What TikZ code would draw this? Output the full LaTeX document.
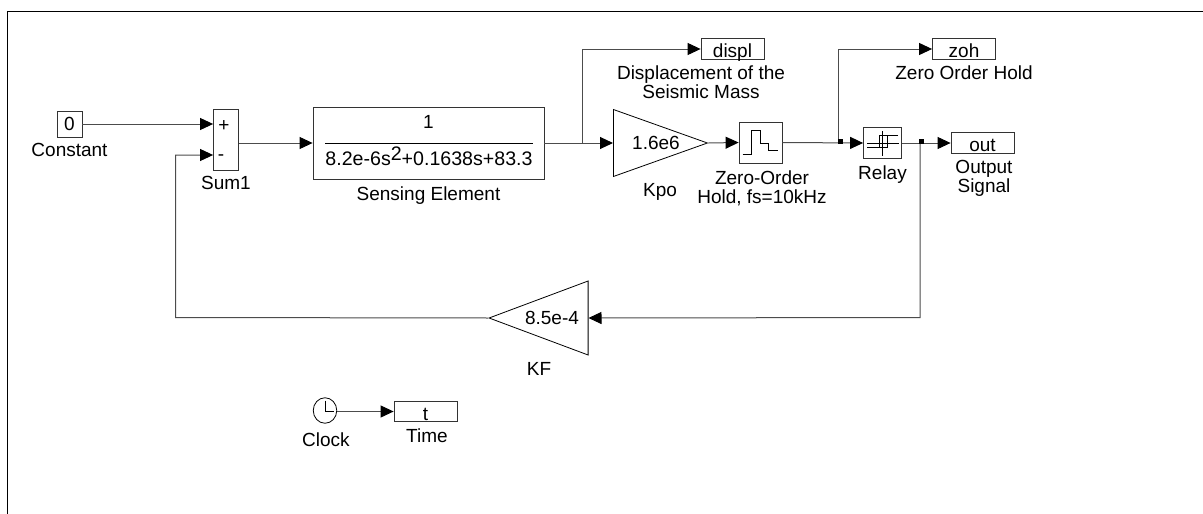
\documentclass[tikz,border=0pt]{standalone}
\usepackage{fontspec}
\setmainfont{Liberation Sans}
\usetikzlibrary{arrows.meta, positioning, calc, shapes.geometric}

\begin{document}
\begin{tikzpicture}[x=1pt, y=-1pt,
    block/.style={rectangle, draw=black!80, line width=0.8pt, inner sep=0pt, font=\fontsize{19}{19}\selectfont, align=center},
    scopeblock/.style={block, minimum width=63pt, minimum height=21pt, text height=17pt, text depth=0pt},
    gainblock/.style={isosceles triangle, isosceles triangle stretches, draw=black, line width=0.8pt, inner sep=0pt},
    caption/.style={font=\fontsize{19}{19}\selectfont, inner sep=0pt, align=center},
    wire/.style={-{Stealth[length=13pt, width=12pt, inset=0pt, black]}, black!70, line width=1pt},
    plainwire/.style={black!70, line width=1pt},
    glyph/.style={black, line width=0.8pt},
    dot/.style={rectangle, fill=black, minimum size=5pt, inner sep=0pt},
]

\useasboundingbox (0,0) rectangle (1203,514);

% === WINDOW EDGE ===
\coordinate (wina) at (7.5,514);
\coordinate (winb) at (7.5,11);
\coordinate (winc) at (1203,11);
\draw[black, line width=1pt] (wina) -- (winb) -- (winc);

% === BLOCKS ===
\node[block, minimum width=25pt, minimum height=26pt] (const) at (69.5,124) {0};
\node[block, minimum width=25pt, minimum height=61pt] (sum) at (226,139.5) {};
\node[block, minimum width=231pt, minimum height=72pt] (sens) at (428.5,143) {};
\node[gainblock, minimum width=67pt, minimum height=94pt, anchor=lower side] (kpo) at (613,143) {};
\node[block, minimum width=43pt, minimum height=41pt] (hold) at (760.5,142.5) {};
\node[block, minimum width=38pt, minimum height=31pt] (relay) at (882.5,143) {};
\node[scopeblock] (displ) at (732.5,49) {displ};
\node[scopeblock] (zoh) at (964,49) {zoh};
\node[scopeblock] (out) at (982.5,143) {out};
\node[gainblock, shape border rotate=180, minimum width=74pt, minimum height=99pt, anchor=lower side] (kf) at (588.5,318) {};
\node[ellipse, draw=black, line width=0.8pt, minimum width=23.5pt, minimum height=25.5pt, inner sep=0pt] (clock) at (325,410.5) {};
\node[scopeblock, minimum height=20pt] (time) at (425.5,411.5) {t};

% === BLOCK CONTENTS ===
\node[caption] (plus) at (224,126) {+};
\node[caption] (minus) at (221,158) {-};
\node[caption] (num) at (428.5,122) {1};
\node[caption, anchor=north, inner ysep=4pt, font=\fontsize{19.6}{19.6}\selectfont] (den) at (429,143) {8.2e-6s\raisebox{5pt}{2}+0.1638s+83.3};
\draw[glyph] (den.north west) -- (den.north east);
\node[caption] (kpoval) at (656,143) {1.6e6};
\node[caption] (kfval) at (552,318) {8.5e-4};

% zero-order hold icon
\draw[glyph, shift={(hold.center)}] (-18,11.5) -- (-9,11.5) -- (-9,-12.5) -- (-0.5,-12.5) -- (-0.5,0.5) -- (8,0.5) -- (8,8) -- (17,8);
% relay icon
\draw[glyph, shift={(relay.center)}] (0,-12) -- (0,13) (-15.5,0) -- (16,0);
\draw[glyph, shift={(relay.center)}] (-15.5,4) -- (4.5,4) -- (4.5,-8) (15.5,-8) -- (-3.5,-8) -- (-3.5,4);
% clock icon
\draw[glyph] (325,400.7) -- (325,411.7) -- (333.5,411.7);

% === CAPTIONS ===
\node[caption, below=6pt of const] (constcap) {Constant};
\node[caption, below=6pt of sum] (sumcap) {Sum1};
\node[caption, below=7pt of sens] (senscap) {Sensing Element};
\node[caption] (displcap) at (701,82.5) {Displacement of the\\Seismic Mass};
\node[caption] (kpocap) at (660,192) {Kpo};
\node[caption] (holdcap) at (762,188.5) {Zero-Order\\Hold, fs=10kHz};
\node[caption, below=7pt of relay] (relaycap) {Relay};
\node[caption, below=6pt of zoh] (zohcap) {Zero Order Hold};
\node[caption] (outcap) at (984,178) {Output\\Signal};
\node[caption] (kfcap) at (539,369) {KF};
\node[caption] (clockcap) at (326,440) {Clock};
\node[caption] (timecap) at (427,436) {Time};

% === WIRES ===
\coordinate (fbback) at (175.5,317.5);
\coordinate (fbup) at (175.5,155);
\coordinate (suminb) at (sum.west |- fbup);
\coordinate (sumina) at (sum.west |- const);
\coordinate (tapa) at (582,143);
\coordinate (tapb) at (838.5,143);
\coordinate (tapc) at (920,143);
\coordinate (fbdown) at (920,317.5);

\draw[wire] (const.east) -- (sumina);
\draw[wire] (kf.apex) -- (fbback) -- (fbup) -- (suminb);
\draw[wire] (sum.east |- sens.west) -- (sens.west);
\draw[plainwire] (sens.east) -- (tapa);
\draw[wire] (tapa) -- (kpo.lower side);
\draw[wire] (tapa) |- (displ.west);
\draw[wire] (kpo.apex) -- (hold.west);
\draw[wire] (hold.east) -- (relay.west);
\draw[wire] (tapb) |- (zoh.west);
\draw[wire] (relay.east) -- (out.west);
\draw[wire] (tapc) -- (fbdown) -- (kf.lower side);
\draw[wire] (clock.east |- time.west) -- (time.west);

% === JUNCTIONS ===
\node[dot] (doth) at (840.5,141.3) {};
\node[dot] (dotr) at (921.7,141.3) {};

\end{tikzpicture}
\end{document}
